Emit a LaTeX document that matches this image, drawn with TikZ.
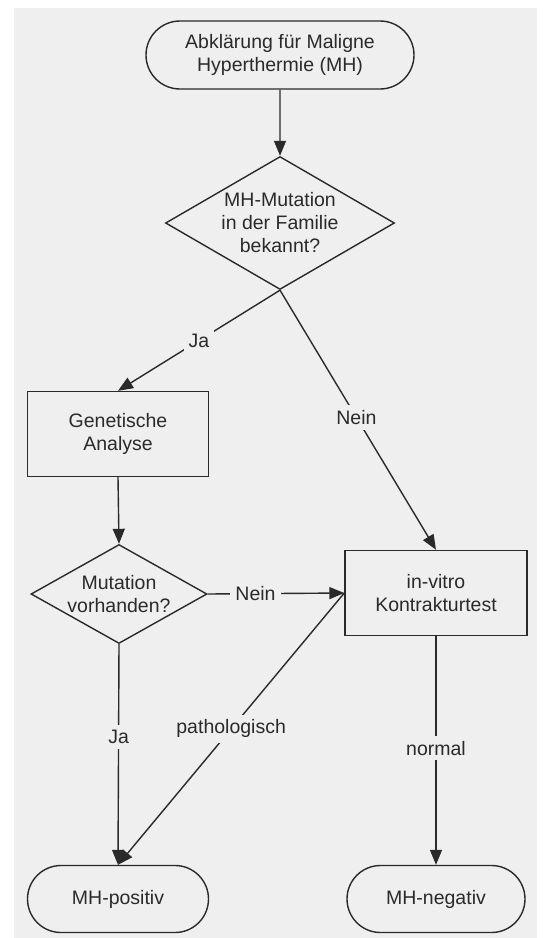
\documentclass[tikz,border=0pt]{standalone}
\usepackage{fontspec}
\setmainfont{Liberation Sans}
\usetikzlibrary{shapes.geometric,shapes.misc,arrows.meta}
\definecolor{bg}{HTML}{EFEFEF}
\definecolor{ln}{HTML}{2A2A2A}
\begin{document}
\begin{tikzpicture}[x=1pt,y=-1pt,
  font=\fontsize{19.5}{23}\selectfont,
  every node/.style={text=ln, align=center},
  term/.style={draw=ln, line width=1.4pt, rounded rectangle, inner sep=0pt},
  proc/.style={draw=ln, line width=1.4pt, rectangle, inner sep=0pt},
  dec/.style={draw=ln, line width=1.4pt, diamond, inner sep=0pt},
  conn/.style={draw=ln, line width=1.4pt, -{Triangle[length=15pt,width=12pt]}},
  lbl/.style={fill=bg, inner sep=5pt}
]
\useasboundingbox (0,0) rectangle (542,938);
\fill[white] (0,0) rectangle (542,938);
\fill[bg] (14,8) rectangle (537,938);

\node[term, minimum width=268pt, minimum height=68pt] (start) at (280,55) {Abklärung für Maligne\\Hyperthermie (MH)};
\node[dec, aspect=1.72, minimum width=229pt, minimum height=133pt] (d1) at (280,223) {MH-Mutation\\in der Familie\\bekannt?};
\node[proc, minimum width=181pt, minimum height=85pt] (ga) at (118,434) {Genetische\\Analyse};
\node[dec, aspect=1.78, minimum width=176pt, minimum height=99pt] (d2) at (119,594) {Mutation\\vorhanden?};
\node[proc, minimum width=182pt, minimum height=85pt] (kt) at (436,593) {in-vitro\\Kontrakturtest};
\node[term, minimum width=181pt, minimum height=67pt] (pos) at (118,899) {MH-positiv};
\node[term, minimum width=178pt, minimum height=67pt] (neg) at (436,899) {MH-negativ};

\draw[conn] (start) -- (d1.north);
\draw[conn] (d1.south) -- node[lbl, pos=0.5] {Ja} (ga.north);
\draw[conn] (d1.south) -- node[lbl, pos=0.49] {Nein} (kt.north);
\draw[conn] (ga.south) -- (d2.north);
\draw[conn] (d2.east) -- node[lbl, pos=0.35] {Nein} (kt.west);
\draw[conn] (d2.south) -- node[lbl, pos=0.42] {Ja} (pos.north);
\draw[conn] (kt.west) -- node[lbl, pos=0.5] {pathologisch} (pos.north);
\draw[conn] (kt.south) -- node[lbl, pos=0.49] {normal} (neg.north);
\end{tikzpicture}
\end{document}
